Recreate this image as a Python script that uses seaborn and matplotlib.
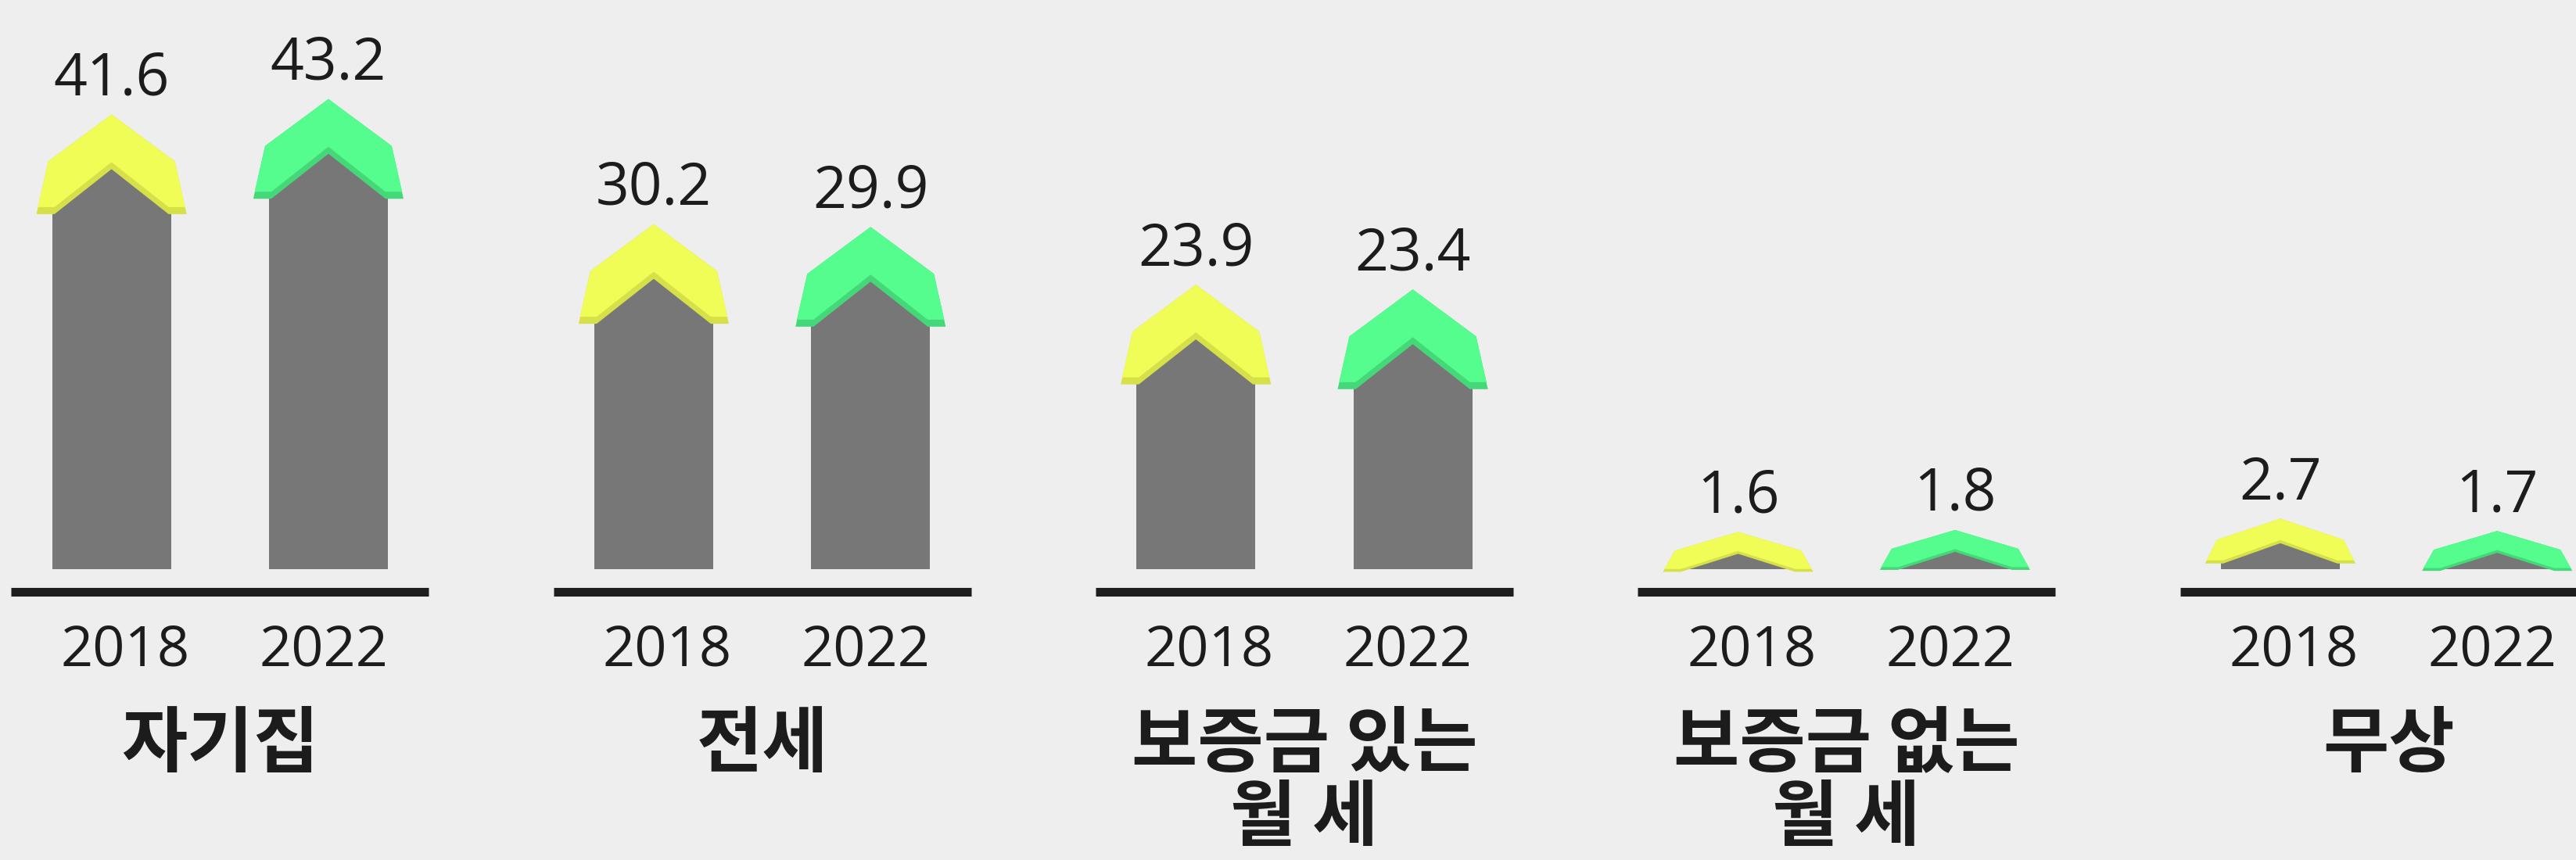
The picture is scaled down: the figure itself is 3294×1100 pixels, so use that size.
import matplotlib
matplotlib.use("Agg")
import matplotlib.pyplot as plt
import seaborn as sns
import pandas as pd
from matplotlib.patches import Polygon

# data
categories = ["자기집", "전세", "보증금 있는\n월 세", "보증금 없는\n월 세", "무상"]
years = ["2018", "2022"]
share_2018 = [41.6, 30.2, 23.9, 1.6, 2.7]
share_2022 = [43.2, 29.9, 23.4, 1.8, 1.7]

# style
bg = "#eeeeee"
bar_grey = "#777777"
ink = "#1c1c1c"
roof_colors = {"2018": ("#d6e049", "#effd56"), "2022": ("#45d878", "#55fd8f")}
year_shift = {"2018": 0.025, "2022": -0.009}   # year labels sit a little off the bar centres

df = pd.DataFrame({
    "category": categories * 2,
    "year": [years[0]] * len(categories) + [years[1]] * len(categories),
    "share": share_2018 + share_2022,
})


def draw_roof(ax, xc, top, f, colors):
    """Roof cap (chevron) sitting on top of a bar, f squashes it vertically."""
    dark, bright = colors
    dark_pts = [(-0.1385, -4.68), (-0.1168, 0.81), (0, 5.69), (0.1168, 0.81),
                (0.1385, -4.68), (0.1053, -4.68), (0, 0), (-0.1053, -4.68)]
    bright_pts = [(-0.1360, -3.95), (-0.1168, 0.81), (0, 5.69), (0.1168, 0.81),
                  (0.1360, -3.95), (0.1053, -3.95), (0, 0.73), (-0.1053, -3.95)]
    for pts, c in ((dark_pts, dark), (bright_pts, bright)):
        ax.add_patch(Polygon([(xc + dx, top + dy * f) for dx, dy in pts],
                             closed=True, facecolor=c, edgecolor="none", zorder=3))
    return top + 5.69 * f


sns.set_theme(style="white")
plt.rcParams["font.family"] = ["Open Sans", "Noto Sans CJK KR", "DejaVu Sans"]

fig = plt.figure(figsize=(32.94, 11), dpi=100, facecolor=bg)
ax = fig.add_axes([0, 0, 1, 1])
ax.set_facecolor(bg)

sns.barplot(data=df, x="category", y="share", hue="year", order=categories,
            hue_order=years, palette={y: bar_grey for y in years}, width=0.8,
            gap=0.452, saturation=1, errorbar=None, legend=False, linewidth=0,
            zorder=2, ax=ax)

ax.set_xlim(-0.4057, 4.3454)
ax.set_ylim(-30.24, 59.19)
ax.set_axis_off()

for year, container in zip(years, ax.containers):
    for bar in container:
        xc = bar.get_x() + bar.get_width() / 2
        v = bar.get_height()
        f = min(1.0, max(0.4, v / 6))
        peak = draw_roof(ax, xc, v, f, roof_colors[year])
        ax.annotate(f"{v:.1f}", (xc, peak), xytext=(0, 18), textcoords="offset points",
                    ha="center", va="baseline", fontsize=54, color=ink)
        ax.text(xc + year_shift[year], -8.5, year, ha="center", va="center",
                fontsize=52, color=ink)

for i, cat in enumerate(categories):
    ax.hlines(-2.36, i - 0.385, i + 0.385, color="#1e1e1e", lw=8, zorder=1)
    ax.text(i, -14.5, cat, ha="center", va="top", fontsize=66, fontweight="bold",
            color=ink, family=["Noto Sans CJK KR", "DejaVu Sans"], linespacing=1.0)

fig.savefig("out.png", dpi=100, facecolor=bg)
